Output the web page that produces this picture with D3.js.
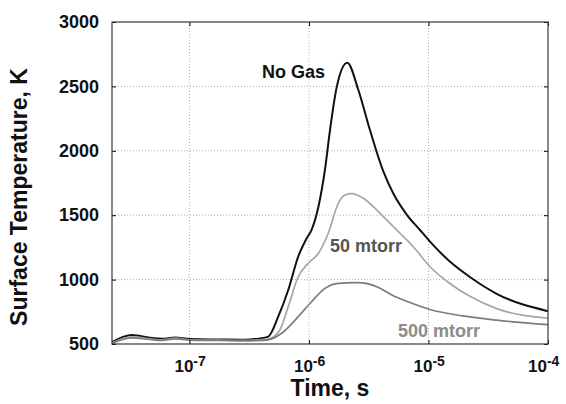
<!DOCTYPE html>
<html>
<head>
<meta charset="utf-8">
<script src="https://cdn.jsdelivr.net/npm/d3@7"></script>
<style>
  body { margin: 0; background: #fff; }
  text { font-family: "Liberation Sans", Arial, sans-serif; font-weight: bold; }
</style>
</head>
<body>
<div id="chart"></div>
<script>
// No gas: time (s) and surface temperature (K)
const noGasTime = [2.25e-8, 3.3e-8, 4.67e-8, 5.88e-8, 7.56e-8, 1.01e-7, 1.8e-7, 2.91e-7, 3.53e-7, 4.56e-7,
  5.53e-7, 6.71e-7, 8.13e-7, 9.57e-7, 1.05e-6, 1.2e-6, 1.36e-6, 1.5e-6, 1.71e-6, 2.09e-6,
  2.59e-6, 3.24e-6, 4.19e-6, 5.07e-6, 6.57e-6, 8.49e-6, 1.03e-5,
  1.51e-5, 2.22e-5, 3.72e-5, 1e-4];
const noGasTemp = [515, 570, 548, 540, 550, 538, 535, 533, 538, 557,
  712, 919, 1178, 1320, 1385, 1566, 1851, 2161, 2498, 2684,
  2472, 2161, 1840, 1670, 1505, 1385, 1295,
  1140, 1020, 890, 755];

// 50 mtorr
const gas50Time = [2.25e-8, 3.3e-8, 4.67e-8, 5.88e-8, 7.56e-8, 1.01e-7, 1.8e-7, 2.91e-7, 3.53e-7, 4.56e-7,
  5.71e-7, 6.71e-7, 8.13e-7, 9.87e-7, 1.2e-6, 1.45e-6, 1.76e-6, 2.0e-6, 2.28e-6, 2.85e-6,
  3.45e-6, 4.47e-6, 5.78e-6, 7.46e-6, 1.03e-5, 1.51e-5, 2.22e-5, 3.72e-5, 1e-4];
const gas50Temp = [508, 555, 540, 532, 545, 533, 530, 528, 530, 538,
  609, 790, 1022, 1127, 1204, 1360, 1592, 1657, 1668, 1631,
  1566, 1463, 1360, 1255, 1100, 970, 870, 775, 700];

// 500 mtorr
const gas500Time = [2.25e-8, 3.3e-8, 4.67e-8, 5.88e-8, 7.56e-8, 1.01e-7, 1.8e-7, 2.91e-7, 3.53e-7, 4.56e-7,
  5.91e-7, 8.13e-7, 1.05e-6, 1.36e-6, 1.76e-6, 2.43e-6, 2.83e-6, 3.69e-6, 5.07e-6, 6.57e-6,
  1.03e-5, 1.94e-5, 3.72e-5, 1e-4];
const gas500Temp = [505, 548, 535, 528, 540, 530, 527, 524, 526, 532,
  583, 712, 828, 932, 971, 977, 974, 945, 875, 832,
  768, 718, 685, 650];

const xTicks = [1e-7, 1e-6, 1e-5, 1e-4];
const yTicks = [500, 1000, 1500, 2000, 2500, 3000];

const series = [
  {time: noGasTime, temp: noGasTemp, color: "#111", width: 2},
  {time: gas50Time, temp: gas50Temp, color: "#a6a6a6", width: 1.7},
  {time: gas500Time, temp: gas500Temp, color: "#7c7c7c", width: 1.7}
];

const margin = {top: 22, right: 18, bottom: 60, left: 112};
const width = 566 - margin.left - margin.right;
const height = 404 - margin.top - margin.bottom;

const svg = d3.select("#chart")
    .append("svg")
    .attr("width", 566)
    .attr("height", 404)
    .append("g")
    .attr("transform", `translate(${margin.left},${margin.top})`);

const x = d3.scaleLog()
    .domain([2.25e-8, 1e-4])
    .range([0, width]);

const y = d3.scaleLinear()
    .domain([500, 3000])
    .range([height, 0]);

// Dotted grid
svg.append("g")
    .selectAll("line")
    .data(xTicks.slice(0, -1))
    .join("line")
    .attr("x1", d => x(d)).attr("x2", d => x(d))
    .attr("y1", 0).attr("y2", height)
    .attr("stroke", "#b0b0b0")
    .attr("stroke-dasharray", "1,2");

svg.append("g")
    .selectAll("line")
    .data(yTicks.slice(1, -1))
    .join("line")
    .attr("x1", 0).attr("x2", width)
    .attr("y1", d => y(d)).attr("y2", d => y(d))
    .attr("stroke", "#b0b0b0")
    .attr("stroke-dasharray", "1,2");

// Curves
const line = d3.line()
    .x(d => x(d[0]))
    .y(d => y(d[1]))
    .curve(d3.curveMonotoneX);

svg.selectAll(".curve")
    .data(series)
    .join("path")
    .attr("class", "curve")
    .attr("fill", "none")
    .attr("stroke", d => d.color)
    .attr("stroke-width", d => d.width)
    .attr("stroke-linejoin", "round")
    .attr("d", d => line(d3.zip(d.time, d.temp)));

// Y axis (ticks inward)
const yAxis = svg.append("g")
    .call(d3.axisLeft(y).tickValues(yTicks).tickFormat(d3.format("d"))
      .tickSizeInner(-4).tickSizeOuter(0).tickPadding(13));
yAxis.select(".domain").remove();
yAxis.selectAll("text").attr("font-size", 18).attr("fill", "#111");

svg.append("g")
    .attr("transform", `translate(${width},0)`)
    .call(d3.axisRight(y).tickValues(yTicks).tickSizeInner(-4).tickSizeOuter(0).tickFormat(""))
    .select(".domain").remove();

// X axis, ticks inward on bottom and top
svg.append("g")
    .attr("transform", `translate(0,${height})`)
    .call(d3.axisBottom(x).tickValues(xTicks).tickSizeInner(-4).tickSizeOuter(0).tickFormat(""))
    .select(".domain").remove();

svg.append("g")
    .call(d3.axisTop(x).tickValues(xTicks).tickSizeInner(-4).tickSizeOuter(0).tickFormat(""))
    .select(".domain").remove();

// 10^n labels
const xLabels = svg.append("g")
    .selectAll("text")
    .data(xTicks)
    .join("text")
    .attr("x", (d, i) => x(d) - (i === xTicks.length - 1 ? 20 : 15))
    .attr("y", height + 28)
    .attr("font-size", 17)
    .attr("fill", "#111");
xLabels.append("tspan").text("10");
xLabels.append("tspan")
    .attr("dy", -6)
    .attr("font-size", 14)
    .text(d => Math.round(Math.log10(d)));

// Box
svg.append("rect")
    .attr("width", width)
    .attr("height", height)
    .attr("fill", "none")
    .attr("stroke", "#3a3a3a")
    .attr("stroke-width", 1.2);

// Axis titles
svg.append("text")
    .attr("x", 218)
    .attr("y", height + 52)
    .attr("text-anchor", "middle")
    .attr("font-size", 23)
    .attr("fill", "#111")
    .text("Time, s");

svg.append("text")
    .attr("transform", `translate(-85,175) rotate(-90)`)
    .attr("text-anchor", "middle")
    .attr("font-size", 23)
    .attr("fill", "#111")
    .text("Surface Temperature, K");

// Curve labels
svg.append("text")
    .attr("x", 150).attr("y", 56)
    .attr("font-size", 18).attr("fill", "#111")
    .text("No Gas");
svg.append("text")
    .attr("x", 218).attr("y", 230)
    .attr("font-size", 18).attr("fill", "#555")
    .text("50 mtorr");
svg.append("text")
    .attr("x", 286).attr("y", 315)
    .attr("font-size", 18).attr("fill", "#8c8c8c")
    .text("500 mtorr");
</script>
</body>
</html>
